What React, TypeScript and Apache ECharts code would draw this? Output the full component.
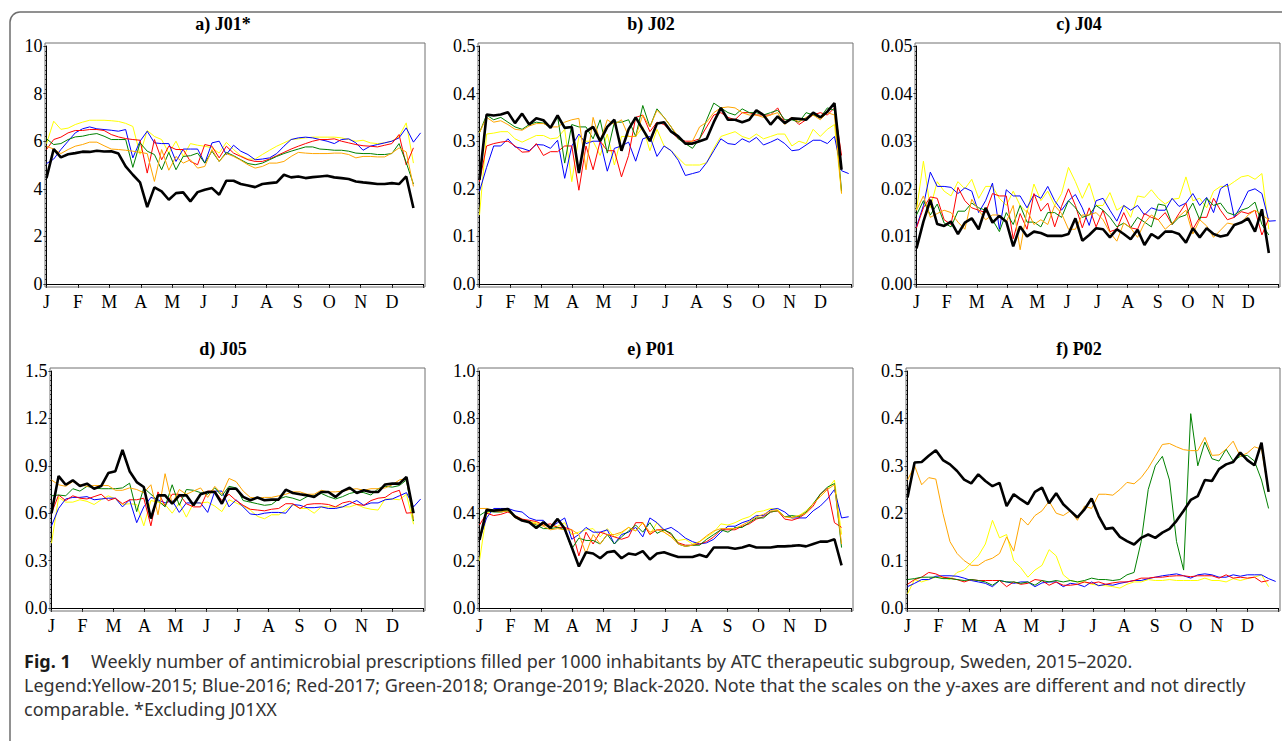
import React, { useEffect, useRef } from 'react';
import * as echarts from 'echarts';

// ---------- axis / legend definitions ----------
const MONTH_LABELS = ['J', 'F', 'M', 'A', 'M', 'J', 'J', 'A', 'S', 'O', 'N', 'D', ''];
const MONTHS_PER_WEEK = 12 / 52.4;
const YEARS = ['2015', '2016', '2017', '2018', '2019', '2020'];
const YEAR_COLORS = ['#FFFF00', '#0000FF', '#FF0000', '#008000', '#FFA500', '#000000'];

// ---------- a) J01* ----------
const J01_2015 = [5.9, 6.84, 6.5, 6.55, 6.7, 6.8, 6.88, 6.88, 6.88, 6.86, 6.83, 6.75, 6.62, 5.45, 6.45, 6.2, 6.07, 5.5, 6.0, 5.36, 5.9, 5.83, 5.79, 5.72, 5.5, 5.95, 5.65, 5.39, 5.25, 5.25, 5.44, 5.62, 5.79, 5.93, 6.07, 6.1, 6.14, 6.17, 6.17, 6.17, 6.17, 6.14, 6.07, 6.0, 6.04, 5.93, 5.9, 5.93, 6.0, 6.2, 6.77, 5.08];
const J01_2016 = [5.06, 5.25, 5.65, 6.0, 6.35, 6.52, 6.6, 6.52, 6.49, 6.46, 6.42, 6.49, 5.3, 6.0, 6.42, 5.93, 5.9, 5.9, 5.15, 5.67, 5.67, 5.67, 5.08, 5.93, 6.0, 5.44, 5.83, 5.58, 5.44, 5.22, 5.25, 5.3, 5.48, 5.79, 6.07, 6.14, 6.17, 6.14, 6.07, 6.0, 5.9, 6.07, 6.1, 5.93, 5.62, 5.79, 5.86, 5.93, 6.0, 6.14, 6.56, 5.96, 6.35];
const J01_2017 = [5.65, 6.07, 6.17, 6.35, 6.45, 6.45, 6.49, 6.49, 6.45, 6.28, 6.18, 6.11, 6.07, 6.04, 4.66, 6.07, 5.22, 5.79, 5.65, 5.65, 5.15, 5.01, 5.86, 5.79, 5.3, 5.79, 5.5, 5.36, 5.22, 5.15, 5.15, 5.25, 5.39, 5.53, 5.67, 5.79, 5.9, 6.0, 6.07, 6.07, 6.1, 6.0, 5.93, 5.86, 5.81, 5.79, 5.76, 5.83, 5.9, 6.28, 5.0, 5.72];
const J01_2018 = [6.1, 5.86, 5.9, 6.07, 6.18, 6.21, 6.28, 6.32, 6.21, 6.07, 6.07, 6.07, 4.9, 5.93, 5.58, 5.44, 4.8, 5.53, 4.8, 5.36, 5.39, 5.5, 5.08, 5.58, 5.15, 5.53, 5.39, 5.22, 5.06, 5.01, 5.08, 5.22, 5.36, 5.48, 5.58, 5.67, 5.76, 5.76, 5.67, 5.65, 5.62, 5.62, 5.58, 5.5, 5.48, 5.48, 5.44, 5.44, 5.48, 5.9, 5.1, 4.2];
const J01_2019 = [5.79, 5.67, 5.48, 5.65, 5.79, 5.86, 5.96, 5.96, 5.81, 5.67, 5.65, 5.62, 5.58, 5.53, 5.48, 4.31, 5.65, 4.78, 5.36, 5.08, 5.22, 4.87, 4.94, 5.65, 5.15, 5.48, 5.36, 5.2, 5.01, 4.87, 4.94, 5.08, 5.08, 5.15, 5.36, 5.53, 5.5, 5.48, 5.48, 5.48, 5.5, 5.5, 5.44, 5.3, 5.36, 5.36, 5.34, 5.34, 5.5, 5.72, 5.55, 4.1];
const J01_2020 = [4.45, 5.67, 5.32, 5.45, 5.5, 5.56, 5.55, 5.6, 5.57, 5.58, 5.48, 4.94, 4.59, 4.27, 3.23, 4.06, 3.89, 3.54, 3.82, 3.85, 3.47, 3.86, 3.96, 4.03, 3.75, 4.34, 4.34, 4.2, 4.14, 4.07, 4.2, 4.24, 4.27, 4.59, 4.48, 4.52, 4.45, 4.49, 4.52, 4.55, 4.48, 4.45, 4.41, 4.31, 4.27, 4.24, 4.2, 4.2, 4.24, 4.2, 4.52, 3.19];

// ---------- b) J02 ----------
const J02_2015 = [0.145, 0.315, 0.317, 0.32, 0.32, 0.305, 0.298, 0.305, 0.312, 0.312, 0.305, 0.307, 0.325, 0.215, 0.31, 0.3, 0.3, 0.27, 0.315, 0.25, 0.31, 0.31, 0.31, 0.33, 0.28, 0.325, 0.29, 0.28, 0.265, 0.25, 0.25, 0.25, 0.255, 0.285, 0.31, 0.315, 0.32, 0.31, 0.305, 0.315, 0.305, 0.31, 0.315, 0.315, 0.29, 0.3, 0.295, 0.325, 0.31, 0.325, 0.335, 0.19];
const J02_2016 = [0.195, 0.245, 0.29, 0.29, 0.305, 0.288, 0.285, 0.28, 0.293, 0.292, 0.285, 0.302, 0.222, 0.29, 0.315, 0.295, 0.3, 0.3, 0.237, 0.285, 0.29, 0.298, 0.258, 0.305, 0.31, 0.268, 0.29, 0.28, 0.26, 0.228, 0.232, 0.236, 0.255, 0.28, 0.305, 0.295, 0.293, 0.305, 0.298, 0.308, 0.292, 0.298, 0.305, 0.295, 0.28, 0.282, 0.292, 0.302, 0.302, 0.295, 0.31, 0.238, 0.232];
const J02_2017 = [0.215, 0.29, 0.295, 0.298, 0.3, 0.29, 0.277, 0.278, 0.295, 0.27, 0.278, 0.278, 0.29, 0.29, 0.197, 0.29, 0.24, 0.3, 0.28, 0.28, 0.225, 0.27, 0.35, 0.355, 0.32, 0.34, 0.335, 0.32, 0.305, 0.3, 0.3, 0.305, 0.33, 0.355, 0.36, 0.35, 0.345, 0.36, 0.36, 0.355, 0.355, 0.355, 0.37, 0.34, 0.35, 0.335, 0.345, 0.355, 0.36, 0.355, 0.37, 0.27];
const J02_2018 = [0.318, 0.355, 0.345, 0.35, 0.34, 0.33, 0.325, 0.335, 0.34, 0.338, 0.33, 0.352, 0.254, 0.335, 0.33, 0.33, 0.305, 0.345, 0.275, 0.34, 0.34, 0.345, 0.31, 0.375, 0.33, 0.368, 0.35, 0.33, 0.305, 0.295, 0.285, 0.305, 0.345, 0.38, 0.37, 0.36, 0.355, 0.368, 0.36, 0.36, 0.355, 0.36, 0.365, 0.345, 0.345, 0.34, 0.36, 0.355, 0.35, 0.37, 0.365, 0.195];
const J02_2019 = [0.318, 0.35, 0.34, 0.343, 0.335, 0.325, 0.323, 0.332, 0.337, 0.337, 0.33, 0.33, 0.34, 0.345, 0.348, 0.24, 0.35, 0.3, 0.345, 0.335, 0.345, 0.31, 0.31, 0.355, 0.33, 0.365, 0.35, 0.33, 0.31, 0.295, 0.3, 0.33, 0.34, 0.36, 0.37, 0.372, 0.37, 0.36, 0.355, 0.355, 0.35, 0.355, 0.36, 0.335, 0.35, 0.34, 0.35, 0.355, 0.345, 0.36, 0.355, 0.19];
const J02_2020 = [0.219, 0.356, 0.354, 0.356, 0.361, 0.338, 0.358, 0.335, 0.348, 0.344, 0.328, 0.354, 0.328, 0.33, 0.233, 0.32, 0.33, 0.3, 0.33, 0.345, 0.28, 0.325, 0.35, 0.325, 0.3, 0.337, 0.34, 0.32, 0.31, 0.295, 0.295, 0.3, 0.305, 0.34, 0.37, 0.345, 0.345, 0.34, 0.345, 0.365, 0.355, 0.335, 0.352, 0.338, 0.348, 0.347, 0.345, 0.36, 0.35, 0.362, 0.38, 0.24];

// ---------- c) J04 ----------
const J04_2015 = [0.0155, 0.0258, 0.016, 0.0215, 0.0195, 0.0185, 0.0215, 0.02, 0.022, 0.018, 0.0205, 0.0205, 0.018, 0.0165, 0.0195, 0.0165, 0.015, 0.021, 0.0175, 0.0195, 0.0165, 0.019, 0.0245, 0.0215, 0.018, 0.0212, 0.0165, 0.0165, 0.0192, 0.0155, 0.0165, 0.014, 0.0185, 0.0182, 0.0198, 0.018, 0.0168, 0.0178, 0.018, 0.0225, 0.0175, 0.018, 0.016, 0.0195, 0.0205, 0.0205, 0.0215, 0.0225, 0.0228, 0.022, 0.0232, 0.0115];
const J04_2016 = [0.012, 0.0165, 0.0235, 0.0205, 0.0205, 0.0203, 0.019, 0.0202, 0.0195, 0.015, 0.0175, 0.0212, 0.0115, 0.0198, 0.0185, 0.0185, 0.016, 0.0188, 0.018, 0.0205, 0.0175, 0.0155, 0.0175, 0.0188, 0.016, 0.0123, 0.0175, 0.018, 0.0155, 0.0132, 0.0165, 0.0155, 0.0165, 0.0145, 0.016, 0.0155, 0.0155, 0.018, 0.0163, 0.017, 0.019, 0.0165, 0.0182, 0.015, 0.02, 0.021, 0.014, 0.0165, 0.0195, 0.02, 0.019, 0.0132, 0.0133];
const J04_2017 = [0.0118, 0.016, 0.0183, 0.018, 0.0135, 0.0125, 0.0203, 0.0175, 0.016, 0.0155, 0.015, 0.019, 0.0185, 0.0185, 0.0095, 0.0148, 0.0115, 0.019, 0.0153, 0.017, 0.012, 0.0163, 0.02, 0.0165, 0.0118, 0.016, 0.012, 0.0155, 0.011, 0.0115, 0.015, 0.0118, 0.0115, 0.0148, 0.014, 0.0135, 0.015, 0.0125, 0.0148, 0.017, 0.0115, 0.014, 0.014, 0.018, 0.0155, 0.0135, 0.014, 0.0152, 0.0148, 0.0155, 0.0103, 0.0138];
const J04_2018 = [0.0145, 0.0175, 0.0145, 0.0168, 0.0128, 0.012, 0.0153, 0.0153, 0.017, 0.016, 0.0155, 0.0135, 0.011, 0.015, 0.0125, 0.0165, 0.013, 0.013, 0.012, 0.015, 0.015, 0.014, 0.0175, 0.016, 0.014, 0.0145, 0.0165, 0.0155, 0.014, 0.012, 0.0128, 0.0118, 0.014, 0.013, 0.012, 0.0168, 0.0165, 0.0125, 0.014, 0.0145, 0.017, 0.0135, 0.018, 0.0165, 0.017, 0.015, 0.0145, 0.0155, 0.016, 0.0172, 0.0125, 0.0103];
const J04_2019 = [0.0155, 0.0185, 0.014, 0.0148, 0.0155, 0.015, 0.013, 0.0115, 0.0178, 0.0155, 0.0135, 0.0145, 0.0145, 0.013, 0.0165, 0.0072, 0.0155, 0.0125, 0.0135, 0.0125, 0.0165, 0.0148, 0.0115, 0.0115, 0.0145, 0.0145, 0.015, 0.0135, 0.0108, 0.009, 0.0128, 0.0118, 0.0098, 0.0128, 0.0145, 0.0135, 0.0115, 0.0128, 0.0142, 0.0155, 0.0105, 0.0135, 0.0122, 0.0098, 0.0113, 0.0128, 0.0125, 0.0128, 0.0145, 0.0155, 0.0145, 0.0135];
const J04_2020 = [0.0075, 0.0131, 0.0177, 0.0126, 0.0122, 0.0131, 0.0105, 0.0129, 0.0138, 0.0115, 0.016, 0.0129, 0.0143, 0.0131, 0.0079, 0.0121, 0.01, 0.011, 0.0107, 0.0101, 0.0101, 0.0101, 0.0105, 0.0138, 0.0091, 0.0103, 0.0117, 0.0115, 0.0098, 0.0115, 0.0105, 0.0094, 0.0114, 0.0082, 0.0105, 0.0096, 0.011, 0.011, 0.0105, 0.0087, 0.0117, 0.0098, 0.0117, 0.0105, 0.01, 0.0103, 0.0124, 0.0129, 0.0138, 0.011, 0.0157, 0.0065];

// ---------- d) J05 ----------
const J05_2015 = [0.41, 0.7, 0.67, 0.67, 0.685, 0.675, 0.655, 0.685, 0.71, 0.69, 0.655, 0.66, 0.655, 0.52, 0.68, 0.67, 0.655, 0.6, 0.665, 0.575, 0.665, 0.665, 0.67, 0.645, 0.61, 0.685, 0.665, 0.645, 0.62, 0.58, 0.565, 0.59, 0.59, 0.62, 0.655, 0.63, 0.63, 0.6, 0.64, 0.64, 0.64, 0.64, 0.64, 0.655, 0.635, 0.625, 0.62, 0.69, 0.69, 0.685, 0.72, 0.53];
const J05_2016 = [0.52, 0.63, 0.69, 0.7, 0.7, 0.705, 0.685, 0.69, 0.695, 0.695, 0.64, 0.685, 0.54, 0.64, 0.7, 0.685, 0.665, 0.68, 0.605, 0.665, 0.665, 0.665, 0.605, 0.74, 0.74, 0.64, 0.685, 0.64, 0.595, 0.59, 0.6, 0.605, 0.605, 0.6, 0.655, 0.65, 0.635, 0.635, 0.64, 0.63, 0.63, 0.64, 0.66, 0.68, 0.65, 0.665, 0.665, 0.685, 0.69, 0.71, 0.73, 0.64, 0.69];
const J05_2017 = [0.6, 0.715, 0.68, 0.71, 0.695, 0.69, 0.705, 0.72, 0.68, 0.695, 0.66, 0.685, 0.685, 0.695, 0.52, 0.735, 0.645, 0.72, 0.72, 0.66, 0.64, 0.64, 0.74, 0.74, 0.68, 0.72, 0.68, 0.65, 0.625, 0.62, 0.615, 0.625, 0.63, 0.66, 0.66, 0.63, 0.655, 0.66, 0.66, 0.655, 0.64, 0.665, 0.675, 0.655, 0.65, 0.68, 0.695, 0.7, 0.73, 0.745, 0.6, 0.605];
const J05_2018 = [0.71, 0.715, 0.71, 0.755, 0.74, 0.77, 0.76, 0.755, 0.755, 0.755, 0.76, 0.79, 0.61, 0.76, 0.72, 0.68, 0.64, 0.78, 0.65, 0.75, 0.745, 0.73, 0.72, 0.76, 0.71, 0.77, 0.76, 0.68, 0.67, 0.66, 0.65, 0.655, 0.69, 0.705, 0.695, 0.68, 0.705, 0.71, 0.725, 0.705, 0.69, 0.705, 0.725, 0.735, 0.73, 0.715, 0.755, 0.77, 0.765, 0.775, 0.81, 0.55];
const J05_2019 = [0.81, 0.78, 0.77, 0.8, 0.78, 0.77, 0.775, 0.775, 0.775, 0.745, 0.745, 0.76, 0.75, 0.73, 0.78, 0.59, 0.85, 0.66, 0.75, 0.72, 0.74, 0.76, 0.7, 0.77, 0.72, 0.82, 0.8, 0.74, 0.7, 0.695, 0.7, 0.7, 0.71, 0.72, 0.735, 0.735, 0.72, 0.72, 0.745, 0.735, 0.735, 0.74, 0.75, 0.755, 0.745, 0.755, 0.755, 0.76, 0.78, 0.81, 0.82, 0.56];
const J05_2020 = [0.6, 0.835, 0.78, 0.808, 0.772, 0.787, 0.755, 0.772, 0.854, 0.866, 1.0, 0.866, 0.797, 0.766, 0.566, 0.713, 0.713, 0.66, 0.713, 0.713, 0.65, 0.72, 0.734, 0.734, 0.66, 0.755, 0.755, 0.703, 0.682, 0.699, 0.682, 0.686, 0.686, 0.749, 0.728, 0.72, 0.713, 0.703, 0.734, 0.734, 0.703, 0.74, 0.761, 0.728, 0.745, 0.734, 0.734, 0.782, 0.787, 0.787, 0.829, 0.6];

// ---------- e) P01 ----------
const P01_2015 = [0.2, 0.4, 0.41, 0.415, 0.41, 0.39, 0.375, 0.365, 0.36, 0.35, 0.345, 0.345, 0.36, 0.31, 0.32, 0.33, 0.335, 0.3, 0.335, 0.3, 0.315, 0.34, 0.325, 0.36, 0.31, 0.36, 0.32, 0.3, 0.285, 0.29, 0.27, 0.28, 0.3, 0.32, 0.355, 0.35, 0.36, 0.375, 0.385, 0.405, 0.41, 0.42, 0.415, 0.385, 0.385, 0.39, 0.41, 0.44, 0.47, 0.5, 0.54, 0.31];
const P01_2016 = [0.29, 0.38, 0.42, 0.42, 0.42, 0.41, 0.405, 0.38, 0.37, 0.37, 0.34, 0.36, 0.38, 0.29, 0.31, 0.34, 0.32, 0.32, 0.33, 0.27, 0.31, 0.32, 0.34, 0.3, 0.38, 0.36, 0.33, 0.34, 0.32, 0.295, 0.28, 0.27, 0.275, 0.29, 0.32, 0.345, 0.345, 0.36, 0.37, 0.39, 0.39, 0.415, 0.42, 0.405, 0.38, 0.38, 0.38, 0.41, 0.43, 0.46, 0.5, 0.38, 0.385];
const P01_2017 = [0.35, 0.4, 0.39, 0.395, 0.405, 0.39, 0.375, 0.37, 0.365, 0.35, 0.355, 0.34, 0.34, 0.33, 0.22, 0.32, 0.27, 0.32, 0.31, 0.3, 0.29, 0.3, 0.36, 0.36, 0.31, 0.33, 0.33, 0.31, 0.275, 0.265, 0.265, 0.27, 0.28, 0.3, 0.33, 0.33, 0.33, 0.345, 0.355, 0.375, 0.385, 0.405, 0.41, 0.375, 0.37, 0.38, 0.4, 0.43, 0.48, 0.505, 0.36, 0.34];
const P01_2018 = [0.39, 0.41, 0.405, 0.405, 0.41, 0.385, 0.37, 0.365, 0.35, 0.335, 0.335, 0.34, 0.33, 0.25, 0.295, 0.285, 0.285, 0.27, 0.31, 0.27, 0.3, 0.325, 0.35, 0.32, 0.36, 0.315, 0.33, 0.315, 0.27, 0.26, 0.265, 0.265, 0.29, 0.31, 0.33, 0.32, 0.34, 0.34, 0.36, 0.38, 0.38, 0.405, 0.41, 0.385, 0.39, 0.385, 0.405, 0.44, 0.48, 0.51, 0.525, 0.255];
const P01_2019 = [0.42, 0.42, 0.41, 0.405, 0.41, 0.38, 0.37, 0.36, 0.355, 0.345, 0.33, 0.335, 0.33, 0.33, 0.31, 0.23, 0.31, 0.27, 0.31, 0.31, 0.32, 0.34, 0.325, 0.36, 0.32, 0.33, 0.32, 0.3, 0.27, 0.26, 0.265, 0.28, 0.305, 0.325, 0.335, 0.335, 0.335, 0.35, 0.365, 0.385, 0.395, 0.41, 0.41, 0.385, 0.38, 0.39, 0.4, 0.44, 0.47, 0.5, 0.52, 0.27];
const P01_2020 = [0.287, 0.414, 0.411, 0.414, 0.418, 0.386, 0.369, 0.362, 0.338, 0.362, 0.338, 0.376, 0.334, 0.256, 0.175, 0.235, 0.23, 0.21, 0.235, 0.24, 0.21, 0.23, 0.225, 0.24, 0.205, 0.23, 0.235, 0.225, 0.215, 0.215, 0.215, 0.225, 0.215, 0.255, 0.255, 0.255, 0.25, 0.255, 0.265, 0.255, 0.255, 0.255, 0.26, 0.26, 0.262, 0.265, 0.26, 0.27, 0.28, 0.28, 0.29, 0.18];

// ---------- f) P02 ----------
const P02_2015 = [0.03, 0.06, 0.055, 0.06, 0.065, 0.065, 0.06, 0.075, 0.08, 0.095, 0.11, 0.135, 0.185, 0.148, 0.155, 0.1, 0.085, 0.065, 0.08, 0.09, 0.123, 0.11, 0.07, 0.058, 0.055, 0.055, 0.05, 0.048, 0.047, 0.045, 0.042, 0.05, 0.055, 0.055, 0.06, 0.058, 0.058, 0.06, 0.058, 0.058, 0.058, 0.058, 0.063, 0.058, 0.058, 0.055, 0.062, 0.058, 0.062, 0.065, 0.07, 0.045];
const P02_2016 = [0.045, 0.052, 0.06, 0.06, 0.067, 0.068, 0.068, 0.067, 0.063, 0.058, 0.055, 0.052, 0.045, 0.058, 0.055, 0.052, 0.055, 0.055, 0.045, 0.053, 0.055, 0.055, 0.045, 0.052, 0.05, 0.045, 0.055, 0.047, 0.05, 0.048, 0.052, 0.055, 0.058, 0.058, 0.062, 0.065, 0.068, 0.07, 0.072, 0.068, 0.063, 0.07, 0.072, 0.07, 0.065, 0.065, 0.07, 0.067, 0.07, 0.07, 0.07, 0.062, 0.056];
const P02_2017 = [0.05, 0.06, 0.065, 0.075, 0.072, 0.065, 0.063, 0.06, 0.055, 0.06, 0.058, 0.058, 0.058, 0.058, 0.045, 0.055, 0.05, 0.052, 0.06, 0.058, 0.048, 0.055, 0.048, 0.048, 0.05, 0.055, 0.052, 0.055, 0.05, 0.053, 0.055, 0.055, 0.058, 0.063, 0.063, 0.065, 0.065, 0.067, 0.068, 0.068, 0.066, 0.068, 0.068, 0.068, 0.063, 0.07, 0.063, 0.065, 0.063, 0.065, 0.055, 0.058];
const P02_2018 = [0.06, 0.062, 0.065, 0.065, 0.065, 0.062, 0.062, 0.06, 0.058, 0.06, 0.058, 0.055, 0.048, 0.058, 0.055, 0.055, 0.052, 0.055, 0.048, 0.058, 0.055, 0.058, 0.055, 0.058, 0.055, 0.058, 0.063, 0.06, 0.06, 0.058, 0.06, 0.07, 0.075, 0.14, 0.25, 0.3, 0.32, 0.27, 0.14, 0.08, 0.41, 0.3, 0.35, 0.315, 0.31, 0.335, 0.31, 0.32, 0.322, 0.31, 0.27, 0.21];
const P02_2019 = [0.27, 0.3, 0.26, 0.275, 0.272, 0.2, 0.14, 0.115, 0.1, 0.09, 0.09, 0.1, 0.105, 0.115, 0.15, 0.12, 0.19, 0.175, 0.195, 0.205, 0.225, 0.2, 0.195, 0.205, 0.185, 0.215, 0.21, 0.24, 0.24, 0.238, 0.25, 0.265, 0.262, 0.275, 0.295, 0.32, 0.345, 0.347, 0.34, 0.334, 0.332, 0.332, 0.36, 0.322, 0.323, 0.335, 0.352, 0.32, 0.327, 0.34, 0.335, 0.245];
const P02_2020 = [0.233, 0.307, 0.308, 0.321, 0.333, 0.312, 0.303, 0.289, 0.271, 0.263, 0.282, 0.268, 0.257, 0.264, 0.215, 0.24, 0.229, 0.219, 0.245, 0.254, 0.221, 0.242, 0.219, 0.205, 0.191, 0.208, 0.231, 0.194, 0.167, 0.169, 0.15, 0.141, 0.134, 0.148, 0.155, 0.148, 0.159, 0.167, 0.184, 0.205, 0.228, 0.236, 0.27, 0.268, 0.293, 0.303, 0.308, 0.328, 0.312, 0.301, 0.349, 0.245];

// ---------- panel titles / scales ----------
const PANEL_TITLES = ['a) J01*', 'b) J02', 'c) J04', 'd) J05', 'e) P01', 'f) P02'];
const PANEL_Y_MAX = [10, 0.5, 0.05, 1.5, 1.0, 0.5];
const PANEL_Y_STEP = [2, 0.1, 0.01, 0.3, 0.2, 0.1];
const PANEL_Y_DECIMALS = [0, 1, 2, 1, 1, 1];
const PANEL_DATA = [
  [J01_2015, J01_2016, J01_2017, J01_2018, J01_2019, J01_2020],
  [J02_2015, J02_2016, J02_2017, J02_2018, J02_2019, J02_2020],
  [J04_2015, J04_2016, J04_2017, J04_2018, J04_2019, J04_2020],
  [J05_2015, J05_2016, J05_2017, J05_2018, J05_2019, J05_2020],
  [P01_2015, P01_2016, P01_2017, P01_2018, P01_2019, P01_2020],
  [P02_2015, P02_2016, P02_2017, P02_2018, P02_2019, P02_2020],
];

const CAPTION_LINE1 = 'Weekly number of antimicrobial prescriptions filled per 1000 inhabitants by ATC therapeutic subgroup, Sweden, 2015–2020.';
const CAPTION_LINE2 = 'Legend:Yellow-2015; Blue-2016; Red-2017; Green-2018; Orange-2019; Black-2020. Note that the scales on the y-axes are different and not directly';
const CAPTION_LINE3 = 'comparable. *Excluding J01XX';

// ---------- layout (styling only) ----------
const FRAMES = [
  { l: 45, t: 43, r: 425, b: 287, tx: 223, ty: 24 },
  { l: 478, t: 43, r: 853, b: 287, tx: 651, ty: 24 },
  { l: 915, t: 43, r: 1280, b: 287, tx: 1079, ty: 24 },
  { l: 50, t: 368, r: 425, b: 611, tx: 223, ty: 349 },
  { l: 478, t: 368, r: 853, b: 611, tx: 651, ty: 349 },
  { l: 906, t: 368, r: 1280, b: 611, tx: 1079, ty: 349 },
];
const DX = 1.5;
const DY = 3;
const SERIF = '"Liberation Serif", "Times New Roman", serif';
const SANS = '"Noto Sans", "Open Sans", sans-serif';
const TICK_FONT = 18;
const CAPTION_FONT = 18;

function buildOption(): any {
  const grid: any[] = [];
  const xAxis: any[] = [];
  const yAxis: any[] = [];
  const series: any[] = [];
  const graphic: any[] = [];

  graphic.push({
    type: 'rect',
    shape: { x: 10, y: 12, width: 1300, height: 780, r: 10 },
    style: { fill: 'none', stroke: '#6e6e6e', lineWidth: 1.5 },
    silent: true,
    z: 0,
  });

  FRAMES.forEach((f, k) => {
    graphic.push({
      type: 'rect',
      shape: { x: f.l, y: f.t, width: f.r - f.l, height: f.b - f.t },
      style: { fill: 'none', stroke: '#707070', lineWidth: 1 },
      silent: true,
      z: 1,
    });
    graphic.push({
      type: 'text',
      x: f.tx,
      y: f.ty,
      style: {
        text: PANEL_TITLES[k],
        align: 'center',
        verticalAlign: 'middle',
        fontFamily: SERIF,
        fontWeight: 'bold',
        fontSize: 18,
        fill: '#000',
      },
      silent: true,
    });

    grid.push({
      left: f.l + DX,
      top: f.t + DY,
      width: f.r - f.l - 2 * DX,
      height: f.b - f.t - 2 * DY,
      show: false,
      containLabel: false,
    });
    xAxis.push({
      gridIndex: k,
      type: 'value',
      min: 0,
      max: 12,
      interval: 1,
      offset: DY,
      axisLine: { show: true, lineStyle: { color: '#000', width: 1 } },
      axisTick: { show: true, length: 4, lineStyle: { color: '#000', width: 1 } },
      splitLine: { show: false },
      axisLabel: {
        formatter: (v: number) => MONTH_LABELS[Math.round(v)] ?? '',
        margin: 6,
        fontFamily: SERIF,
        fontSize: TICK_FONT,
        color: '#000',
        showMinLabel: true,
        showMaxLabel: true,
      },
    });
    const dec = PANEL_Y_DECIMALS[k];
    yAxis.push({
      gridIndex: k,
      type: 'value',
      min: 0,
      max: PANEL_Y_MAX[k],
      interval: PANEL_Y_STEP[k],
      offset: DX,
      axisLine: { show: true, lineStyle: { color: '#000', width: 1 } },
      axisTick: { show: true, length: 3, lineStyle: { color: '#000', width: 1 } },
      minorTick: { show: true, splitNumber: 10, length: 1.5, lineStyle: { color: '#000', width: 1 } },
      splitLine: { show: false },
      axisLabel: {
        formatter: (v: number) => v.toFixed(dec),
        margin: 2.5,
        fontFamily: SERIF,
        fontSize: TICK_FONT,
        color: '#000',
        showMinLabel: true,
        showMaxLabel: true,
      },
    });

    PANEL_DATA[k].forEach((values, j) => {
      const isLast = j === YEARS.length - 1;
      series.push({
        name: `${PANEL_TITLES[k]} ${YEARS[j]}`,
        type: 'line',
        xAxisIndex: k,
        yAxisIndex: k,
        data: values.map((v, i) => [i * MONTHS_PER_WEEK, v]),
        symbol: 'none',
        showSymbol: false,
        silent: true,
        z: isLast ? 4 : 3,
        lineStyle: { color: YEAR_COLORS[j], width: isLast ? 2.6 : 1 },
        itemStyle: { color: YEAR_COLORS[j] },
      });
    });
  });

  // caption
  graphic.push({
    type: 'text',
    x: 24,
    y: 661,
    style: { text: 'Fig. 1', verticalAlign: 'middle', fontFamily: SANS, fontWeight: 'bold', fontSize: CAPTION_FONT, fill: '#1a1a1a' },
    silent: true,
  });
  graphic.push({
    type: 'text',
    x: 91,
    y: 661,
    style: { text: CAPTION_LINE1, verticalAlign: 'middle', fontFamily: SANS, fontSize: CAPTION_FONT, fill: '#333' },
    silent: true,
  });
  graphic.push({
    type: 'text',
    x: 24,
    y: 685,
    style: { text: CAPTION_LINE2, verticalAlign: 'middle', fontFamily: SANS, fontSize: CAPTION_FONT, fill: '#333' },
    silent: true,
  });
  graphic.push({
    type: 'text',
    x: 24,
    y: 709,
    style: { text: CAPTION_LINE3, verticalAlign: 'middle', fontFamily: SANS, fontSize: CAPTION_FONT, fill: '#333' },
    silent: true,
  });

  return {
    animation: false,
    backgroundColor: '#fff',
    grid,
    xAxis,
    yAxis,
    series,
    graphic,
  };
}

export default function App() {
  const ref = useRef<HTMLDivElement>(null);
  useEffect(() => {
    if (!ref.current) return;
    const chart = echarts.init(ref.current, undefined, { renderer: 'svg' });
    chart.setOption(buildOption());
    return () => chart.dispose();
  }, []);
  return (
    <div
      ref={ref}
      style={{ position: 'fixed', left: 0, top: 0, width: 1282, height: 741, background: '#fff' }}
    />
  );
}
